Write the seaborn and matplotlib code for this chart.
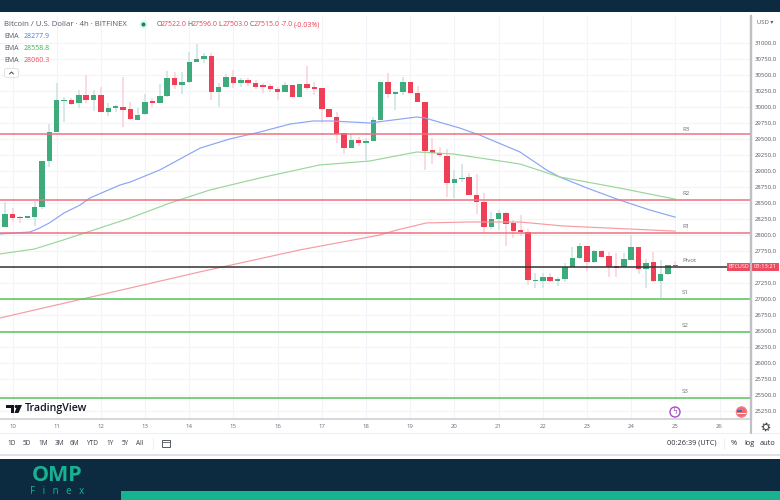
import numpy as np
import pandas as pd
import matplotlib
matplotlib.use('Agg')
import matplotlib.pyplot as plt
import matplotlib.patches as mpatches
import seaborn as sns

# 4h candles, first one sits just before the "10" tick
opens = [28130, 28324, 28281, 28265, 28286, 28433, 29161, 29614, 30099, 30105, 30058, 30188, 30109, 30192,
         29927, 29989, 30005, 29964, 29797, 29886, 30089, 30063, 30172, 30449, 30344, 30391, 30699, 30750,
         30802, 30239, 30317, 30464, 30375, 30427, 30375, 30328, 30328, 30281, 30230, 30344, 30152, 30355,
         30308, 30292, 29964, 29849, 29589, 29359, 29484, 29442, 29464, 29797, 30395, 30203, 30234, 30395,
         30224, 30078, 29328, 29281, 29239, 28813, 28875, 28902, 28625, 28516, 28120, 28250, 28339, 28183,
         28074, 28042, 27286, 27286, 27339, 27286, 27313, 27505, 27641, 27828, 27574, 27745, 27667, 27500,
         27495, 27614, 27808, 27469, 27583, 27281, 27395, 27522]
highs = [28520, 28427, 28297, 28300, 28531, 29161, 29739, 30370, 30161, 30136, 30266, 30500, 30266, 30308,
         30058, 30031, 30474, 30083, 29980, 30199, 30136, 30355, 30567, 30552, 30552, 30864, 30984, 30849,
         30849, 30375, 30511, 30578, 30458, 30449, 30422, 30370, 30360, 30317, 30395, 30344, 30355, 30641,
         30395, 30292, 29964, 29927, 29589, 29578, 29536, 29511, 29849, 30395, 30527, 30250, 30464, 30395,
         30328, 30078, 29511, 29380, 29339, 29016, 29109, 28964, 28953, 28661, 28364, 28391, 28364, 28234,
         28313, 28089, 27402, 27411, 27402, 27339, 27567, 27808, 27880, 27828, 27766, 27766, 27739, 27714,
         27714, 28000, 27808, 27620, 27739, 27609, 27531, 27596]
lows = [28125, 28208, 28192, 28260, 28141, 28406, 29067, 29614, 29770, 30031, 29984, 30058, 29942, 29922,
        29864, 29927, 29683, 29797, 29797, 29875, 30005, 30058, 30161, 30277, 30203, 30380, 30699, 30683,
        30109, 30005, 30313, 30292, 30313, 30328, 30286, 30214, 30239, 30109, 30230, 30152, 30152, 30266,
        30188, 29745, 29839, 29433, 29266, 29359, 29391, 29172, 29464, 29797, 30136, 29953, 30188, 30219,
        30078, 29016, 29109, 29224, 28589, 28574, 28833, 28625, 28328, 28031, 28094, 28078, 27828, 27949,
        27989, 27219, 27167, 27167, 27270, 27208, 27270, 27505, 27625, 27442, 27563, 27652, 27339, 27349,
        27480, 27610, 27391, 27167, 27270, 27011, 27375, 27503]
closes = [28324, 28266, 28261, 28297, 28433, 29161, 29614, 30105, 30109, 30052, 30188, 30109, 30192, 29927,
          29989, 30011, 29958, 29808, 29880, 30074, 30067, 30172, 30449, 30344, 30395, 30703, 30755, 30802,
          30239, 30317, 30464, 30375, 30427, 30375, 30317, 30320, 30277, 30230, 30344, 30152, 30355, 30302,
          30281, 29964, 29839, 29578, 29359, 29484, 29442, 29464, 29797, 30395, 30203, 30239, 30395, 30224,
          30078, 29317, 29286, 29245, 28817, 28870, 28895, 28630, 28520, 28120, 28245, 28339, 28172, 28067,
          28047, 27297, 27297, 27339, 27286, 27313, 27505, 27641, 27828, 27574, 27755, 27661, 27495, 27490,
          27620, 27808, 27464, 27567, 27281, 27395, 27527, 27515]
candle_pos = list(range(-1, 91))

# EMA readings, position counted in candles
ema_blue_pos = [-1.7, 0.3, 2.4, 3.7, 5, 7, 9.2, 10.5, 14.6, 16, 20, 25.5, 29.5, 33.6, 37.7, 40.8, 43.4, 48.5, 54.9, 56, 60.7, 63.4, 68.9, 72.5, 74.3, 78, 82.4, 86.5, 90]
ema_blue = [28016, 28031, 28047, 28109, 28188, 28344, 28469, 28578, 28781, 28828, 29016, 29359, 29500, 29609, 29734, 29781, 29781, 29750, 29844, 29828, 29672, 29563, 29297, 29016, 28906, 28734, 28547, 28391, 28278]
ema_green_pos = [-1.7, 3, 6.9, 9.8, 16, 21.4, 26.8, 33.6, 41.7, 48.5, 54.9, 59.8, 68.9, 74.3, 82.4, 90]
ema_green = [27703, 27781, 27922, 28031, 28266, 28500, 28703, 28891, 29094, 29156, 29297, 29266, 29109, 28906, 28734, 28559]
ema_red_pos = [-1.7, 11.9, 25.4, 39, 49.9, 52.2, 56.2, 62, 68.9, 74.7, 90]
ema_red = [26703, 27063, 27422, 27766, 28000, 28078, 28188, 28203, 28203, 28141, 28060]

# pivot levels
pivot_names = ['R3', 'R2', 'R1', 'Pivot', 'S1', 'S2', 'S3']
pivot_levels = [29578, 28547, 28031, 27500, 27000, 26484, 25445]
pivot_colors = ['#f0707e', '#f0707e', '#f0707e', '#333333', '#55c45a', '#55c45a', '#55c45a']

day_labels = ['10', '11', '12', '13', '14', '15', '16', '17', '18', '19', '20', '21', '22', '23', '24', '25', '26']
range_buttons = ['1D', '5D', '1M', '3M', '6M', 'YTD', '1Y', '5Y', 'All']
range_x = [12, 27, 43, 59, 74, 92, 110, 125, 140]
price_ticks = list(range(25250, 31001, 250))

RED = '#ee3f56'
GREEN = '#3dab7b'
NAVY = '#0d2b40'
TEAL = '#17b391'
GREY = '#6a6d78'

sns.set_theme(style='white')
plt.rcParams['font.family'] = ['Open Sans', 'DejaVu Sans']

W, H = 780, 500
fig = plt.figure(figsize=(W / 100, H / 100), dpi=100, facecolor='white')

# price pane, pixel box 0-751 x 16-419
ax = fig.add_axes([0, 1 - 419 / H, 751 / W, (419 - 16) / H])
df = pd.DataFrame({'pos': candle_pos, 'o': opens, 'h': highs, 'l': lows, 'c': closes})
df['up'] = df['c'] >= df['o']
df['bottom'] = df[['o', 'c']].min(axis=1)
df['height'] = (df['c'] - df['o']).abs().clip(lower=18)

ax.vlines(df['pos'][df['up']], df['l'][df['up']], df['h'][df['up']], color='#d3e6e6', lw=1.3, zorder=2)
ax.vlines(df['pos'][~df['up']], df['l'][~df['up']], df['h'][~df['up']], color='#fbd8dc', lw=1.3, zorder=2)
ax.bar(df['pos'], df['height'], bottom=df['bottom'], width=0.74,
       color=[GREEN if u else RED for u in df['up']], edgecolor='none', zorder=3)

sns.lineplot(x=ema_blue_pos, y=ema_blue, color='#8aa6f4', lw=0.85, ax=ax, zorder=4)
sns.lineplot(x=ema_green_pos, y=ema_green, color='#98d69a', lw=0.85, ax=ax, zorder=4)
sns.lineplot(x=ema_red_pos, y=ema_red, color='#f59ca2', lw=0.85, ax=ax, zorder=4)

for name, level, col in zip(pivot_names, pivot_levels, pivot_colors):
    ax.axhline(level, color=col, lw=1.1, zorder=5)
    offset = 30 if name == 'R3' else 65
    ax.text(90.9, level + offset, name, fontsize=4.4, color=GREY, va='bottom', ha='left', zorder=6)

ax.set_xlim(-1.7, 100.27)
ax.set_ylim(25124, 31422)
ax.set_xticks([6 * i for i in range(len(day_labels))])
ax.set_xticklabels(day_labels, fontsize=4.3, color=GREY)
ax.set_yticks(price_ticks)
ax.set_yticklabels([f'{t:.1f}' for t in price_ticks], fontsize=4.3, color='#555863')
ax.yaxis.tick_right()
ax.grid(True, color='#f1f4f9', lw=0.8)
ax.set_axisbelow(True)
ax.tick_params(axis='x', length=0, pad=3.5)
ax.tick_params(axis='y', length=0, pad=2.5)
for s in ['top', 'left']:
    ax.spines[s].set_visible(False)
ax.spines['right'].set_color('#bfc0c4')
ax.spines['right'].set_linewidth(1.6)
ax.spines['bottom'].set_color('#cfd0d4')
ax.spines['bottom'].set_linewidth(1.2)

# page furniture in pixel coordinates on top of everything
ui = fig.add_axes([0, 0, 1, 1], facecolor='none', zorder=10)
ui.set_xlim(0, W)
ui.set_ylim(H, 0)
ui.axis('off')

ui.add_patch(mpatches.Rectangle((0, 0), W, 12, color=NAVY, lw=0))
ui.add_patch(mpatches.Rectangle((0, 459), W, 41, color=NAVY, lw=0))
ui.add_patch(mpatches.Rectangle((121, 491), W - 121, 9, color=TEAL, lw=0))
ui.text(57, 475.5, 'OMP', fontsize=15.5, fontweight='bold', color=TEAL, ha='center', va='center')
ui.text(57, 491, 'F   i   n   e   x', fontsize=7, color=TEAL, ha='center', va='center')

ui.plot([0, W], [433, 433], color='#eeeff2', lw=0.8)
ui.plot([0, W], [454.5, 454.5], color='#dadbe0', lw=1.2)
ui.plot([751, 751], [16, 433], color='#bfc0c4', lw=1.6)

# header
ui.text(4, 24.5, 'Bitcoin / U.S. Dollar · 4h · BITFINEX', fontsize=5.6, color='#555a66', va='center')
ui.add_patch(mpatches.Circle((143.5, 24.5), 4, color='#dff3ee', lw=0))
ui.add_patch(mpatches.Circle((143.5, 24.5), 2, color='#088a72', lw=0))
xt = 156.5
for lab, val, w in [('O', '27522.0', 31), ('H', '27596.0', 31), ('L', '27503.0', 31), ('C', '27515.0', 31), ('', '-7.0', 13), ('', '(-0.03%)', 0)]:
    if lab:
        ui.text(xt, 25, lab, fontsize=5, color='#555a66', va='center')
    ui.text(xt + (4 if lab else 0), 25, val, fontsize=5, color=RED, va='center')
    xt += w
for y, val, col in [(36.5, '28277.9', '#4d78f0'), (48.5, '28558.8', '#35b84a'), (60.5, '28060.3', '#ef4a5a')]:
    ui.text(4, y, 'EMA', fontsize=5, color='#555a66', va='center')
    ui.text(24, y, val, fontsize=5, color=col, va='center')
ui.add_patch(mpatches.FancyBboxPatch((5, 69), 13, 8, boxstyle='round,pad=0.5,rounding_size=2',
                                     fc='white', ec='#e2e3e8', lw=0.7))
ui.plot([9.5, 11.5, 13.5], [74, 72, 74], color='#444444', lw=0.7)
ui.text(757, 22, 'USD ▾', fontsize=4.3, color='#555863', va='center')

# last price tag
ui.add_patch(mpatches.Rectangle((727, 262.5), 23.5, 8, color='#ee4a60', lw=0))
ui.add_patch(mpatches.Rectangle((751, 262.5), 28, 8, color='#ee4a60', lw=0))
ui.text(738.7, 266.5, 'BTCUSD', fontsize=3.9, color='white', ha='center', va='center')
ui.text(765, 266.5, '03:13:21', fontsize=4.2, color='white', ha='center', va='center')

# TradingView mark
ui.add_patch(mpatches.Polygon([(6, 405), (14, 405), (14, 413), (10.5, 413), (10.5, 408), (6, 408)], color='#131722', lw=0))
ui.add_patch(mpatches.Circle((16.2, 406.5), 1.6, color='#131722', lw=0))
ui.add_patch(mpatches.Polygon([(17.5, 405), (22, 405), (18.5, 413), (14.5, 413)], color='#131722', lw=0))
ui.text(25, 408.5, 'TradingView', fontsize=7.7, fontweight='semibold', color='#131722', va='center')

# event badges
ui.add_patch(mpatches.Circle((675, 412), 5, fc='white', ec='#a54fc4', lw=1))
ui.text(675, 412, 'ϟ', fontsize=5.5, color='#a54fc4', ha='center', va='center', family=['DejaVu Sans'])
ui.add_patch(mpatches.Circle((741.5, 412), 5.2, fc='#ef6a70', ec='#f08088', lw=0.8))
ui.add_patch(mpatches.Rectangle((737, 409.5), 5, 2.8, color='#3f6fc0', lw=0))
ui.add_patch(mpatches.Rectangle((737, 413), 9, 1.2, color='white', lw=0))

# bottom toolbar
for lab, x in zip(range_buttons, range_x):
    ui.text(x, 443.5, lab, fontsize=4.7, color='#3a3e4a', ha='center', va='center')
ui.plot([152.5, 152.5], [438, 449], color='#eeeff2', lw=0.8)
ui.add_patch(mpatches.Rectangle((162, 440), 7.5, 6.5, fc='none', ec='#555863', lw=0.7))
ui.plot([162, 169.5], [442, 442], color='#555863', lw=0.6)
ui.text(691.5, 443.5, '00:26:39 (UTC)', fontsize=5.3, color='#2a2e39', ha='center', va='center')
ui.plot([724, 724], [438, 449], color='#eeeff2', lw=0.8)
ui.text(734, 443.5, '%', fontsize=5.3, color='#2a2e39', ha='center', va='center')
ui.text(749.5, 443.5, 'log', fontsize=5.3, color='#2a2e39', ha='center', va='center')
ui.text(768, 443.5, 'auto', fontsize=5.3, color='#2a2e39', ha='center', va='center')
# gear
ui.add_patch(mpatches.Circle((766, 427), 3.6, fc='none', ec='#444444', lw=1.0, ls=(0, (1, 1))))
ui.add_patch(mpatches.Circle((766, 427), 2.6, fc='white', ec='#444444', lw=0.7))

fig.savefig('out.png', dpi=100)
